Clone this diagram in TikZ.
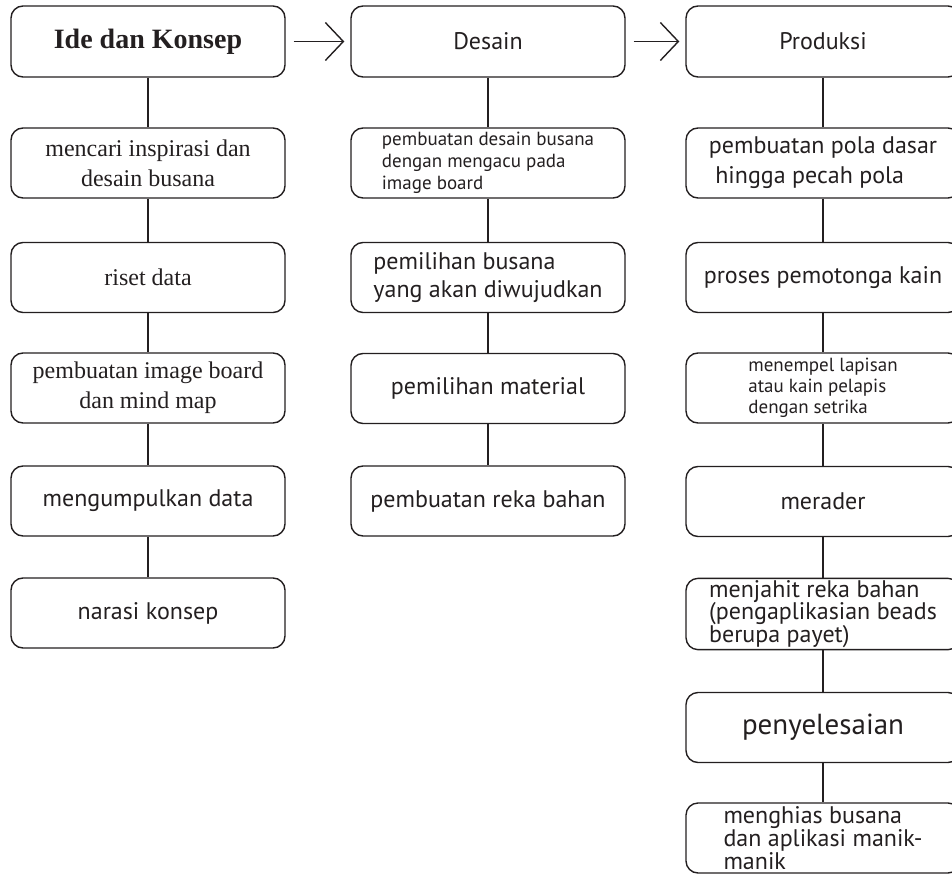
\documentclass[tikz,border=0pt]{standalone}
\usepackage{fontspec}
\setmainfont{PT Sans}
\newfontfamily\tnr{Liberation Serif}
\usepackage{xcolor}
\usepackage{tikz}
\usetikzlibrary{arrows.meta,positioning}

\definecolor{ink}{HTML}{231F20}

\begin{document}
\begin{tikzpicture}[
    x=1pt, y=-1pt,
    box/.style={rectangle, draw=ink, text=ink, rounded corners=12pt, line width=1.4pt,
        minimum width=274pt, minimum height=70pt, inner sep=2pt},
    serifbox/.style={box, align=center, font=\tnr\fontsize{24}{30}\selectfont},
    sansbox/.style={box, align=left, font=\fontsize{24}{28}\selectfont},
    link/.style={draw=ink, line width=1.4pt},
    arrow/.style={-{Straight Barb[length=18pt, width=38pt, line width=1.4pt]}, draw=ink,
        line width=1.4pt, shorten <=8pt, shorten >=6pt}
]
\useasboundingbox (0,0) rectangle (952,874);

% Headers
\node[serifbox, font=\tnr\bfseries\fontsize{28}{32}\selectfont, minimum height=71pt] (ide) at (148, 41.5) {Ide dan Konsep};
\node[sansbox, minimum height=71pt] (desain) at (488, 41.5) {Desain};
\node[sansbox, minimum height=71pt] (produksi) at (823, 41.5) {Produksi};

% Ide dan Konsep
\node[serifbox] (i1) at (148, 163) {mencari inspirasi dan\\desain busana};
\node[serifbox] (i2) at (148, 277.5) {riset data};
\node[serifbox] (i3) at (148, 388) {pembuatan image board\\dan mind map};
\node[sansbox] (i4) at (148, 501) {mengumpulkan data};
\node[sansbox] (i5) at (148, 613) {narasi konsep};

% Desain
\node[sansbox, font=\fontsize{19}{22}\selectfont] (d1) at (488, 163) {pembuatan desain busana\\dengan mengacu pada\\image board};
\node[sansbox] (d2) at (488, 277.5) {pemilihan busana\\yang akan diwujudkan};
\node[sansbox] (d3) at (488, 388.5) {pemilihan material};
\node[sansbox] (d4) at (488, 501) {pembuatan reka bahan};

% Produksi
\node[sansbox, font=\fontsize{24}{30}\selectfont] (p1) at (823, 163) {pembuatan pola dasar\\\ hingga pecah pola};
\node[sansbox] (p2) at (823, 277.5) {proses pemotonga kain};
\node[sansbox, font=\fontsize{19}{21}\selectfont] (p3) at (823, 388) {menempel lapisan\\atau kain pelapis\\dengan setrika};
\node[sansbox] (p4) at (823, 501.5) {merader};
\node[sansbox, font=\fontsize{24}{22.5}\selectfont] (p5) at (823, 614) {menjahit reka bahan\\(pengaplikasian beads\\berupa payet)};
\node[sansbox, font=\fontsize{29}{32}\selectfont] (p6) at (823, 727.5) {penyelesaian};
\node[sansbox, font=\fontsize{24}{21}\selectfont] (p7) at (823, 838) {menghias busana\\dan aplikasi manik-\\manik};

% Arrows between stages
\draw[arrow] (ide) -- (desain);
\draw[arrow] (desain) -- (produksi);

% Links
\draw[link] (ide) -- (i1);
\draw[link] (i1) -- (i2);
\draw[link] (i2) -- (i3);
\draw[link] (i3) -- (i4);
\draw[link] (i4) -- (i5);

\draw[link] (desain) -- (d1);
\draw[link] (d1) -- (d2);
\draw[link] (d2) -- (d3);
\draw[link] (d3) -- (d4);

\draw[link] (produksi) -- (p1);
\draw[link] (p1) -- (p2);
\draw[link] (p2) -- (p3);
\draw[link] (p3) -- (p4);
\draw[link] (p4) -- (p5);
\draw[link] (p5) -- (p6);
\draw[link] (p6) -- (p7);

\end{tikzpicture}
\end{document}
